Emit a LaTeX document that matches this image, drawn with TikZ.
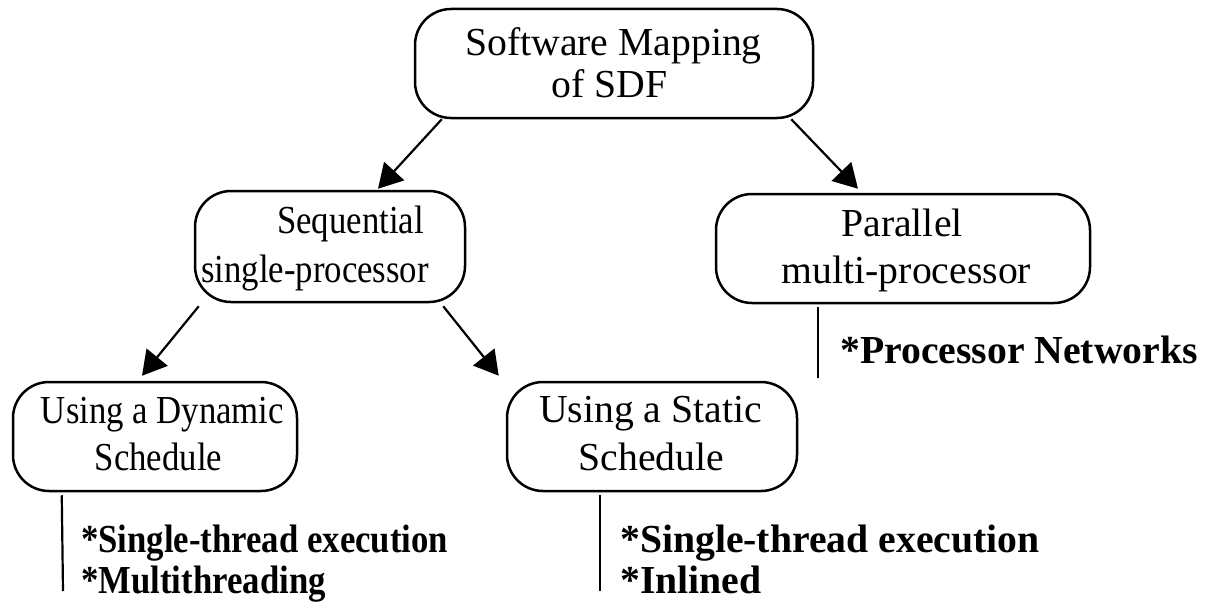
\documentclass[tikz,border=0pt]{standalone}
\usepackage{fontspec}
\setmainfont{Liberation Serif}
\newfontfamily\narrowserif[FakeStretch=0.875]{Liberation Serif}
\usetikzlibrary{arrows.meta}

\begin{document}
\begin{tikzpicture}[x=1pt,y=-1pt,
  box/.style={draw, line width=2.5pt, rounded corners=36pt, inner sep=0pt},
  boxtext/.style={font=\fontsize{39.7}{47}\selectfont, anchor=base, inner sep=0pt},
  nboxtext/.style={font=\narrowserif\fontsize{39.7}{47}\selectfont, anchor=base, inner sep=0pt},
  item/.style={font=\fontsize{39.7}{41}\selectfont\bfseries, anchor=base west, inner sep=0pt},
  nitem/.style={font=\narrowserif\fontsize{39.7}{41}\selectfont\bfseries, anchor=base west, inner sep=0pt},
  arr/.style={line width=2.2pt, -{Triangle[length=24pt,width=27pt]}},
  tick/.style={line width=2.2pt}]
\useasboundingbox (0,0) rectangle (1207,602);

% boxes
\node[box, minimum width=398pt, minimum height=109pt] (top) at (614,63.5) {};
\node[box, minimum width=270pt, minimum height=111pt] (seq) at (330,246.5) {};
\node[box, minimum width=374pt, minimum height=109pt] (par) at (903,248.5) {};
\node[box, minimum width=284pt, minimum height=109pt] (dyn) at (155,436.5) {};
\node[box, minimum width=290pt, minimum height=109pt] (sta) at (652,436.5) {};

% box captions
\node[boxtext] (topA) at (613.5,56) {Software Mapping};
\node[boxtext] (topB) at (609.5,97) {of SDF};
\node[nboxtext, anchor=base west] (seqA) at (277,233) {Sequential};
\node[nboxtext] (seqB) at (315,282) {single-processor};
\node[boxtext] (parA) at (902,236) {Parallel};
\node[boxtext] (parB) at (906.5,283) {multi-processor};
\node[nboxtext] (dynA) at (162.5,423) {Using a Dynamic};
\node[nboxtext] (dynB) at (158.5,470) {Schedule};
\node[boxtext] (staA) at (650.5,422) {Using a Static};
\node[boxtext] (staB) at (651.5,470) {Schedule};

% arrows
\draw[arr] ([xshift=28pt]top.south west) -- ([xshift=48pt,yshift=1pt]seq.north);
\draw[arr] ([xshift=-23pt]top.south east) -- ([xshift=-45pt,yshift=4pt]par.north);
\draw[arr] ([xshift=5pt,yshift=-3pt]seq.south west) -- ([xshift=-13pt,yshift=5pt]dyn.north);
\draw[arr] ([xshift=-23pt,yshift=-3pt]seq.south east) -- ([xshift=-7pt,yshift=5pt]sta.north west);

% implementation lists
\coordinate (dynEnd) at (63,591);
\coordinate (staEnd) at (600,591);
\coordinate (parEnd) at (818,378);
\draw[tick] ([xshift=50pt,yshift=-3pt]dyn.south west) -- (dynEnd);
\draw[tick] ([xshift=-52pt,yshift=-3pt]sta.south) -- (staEnd);
\draw[tick] ([xshift=-85pt,yshift=-3pt]par.south) -- (parEnd);

\node[nitem] (dynL1) at (81,552) {*Single-thread execution};
\node[nitem] (dynL2) at (81,593) {*Multithreading};
\node[item] (staL1) at (620,552) {*Single-thread execution};
\node[item] (staL2) at (620,593) {*Inlined};
\node[item] (parL1) at (840,363) {*Processor Networks};
\end{tikzpicture}
\end{document}
